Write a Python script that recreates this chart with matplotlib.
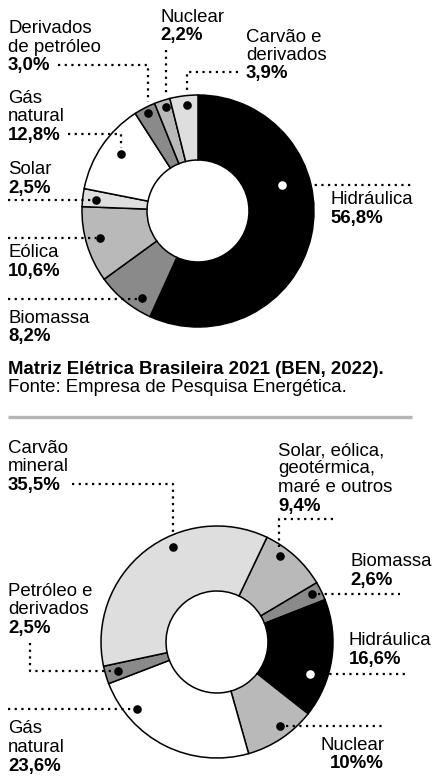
import matplotlib
matplotlib.use("Agg")
import matplotlib.pyplot as plt

plt.rcParams['font.family'] = ['Liberation Sans', 'DejaVu Sans']

# Matriz elétrica brasileira 2021 (%)
br_names = ["Hidráulica", "Biomassa", "Eólica", "Solar", "Gás natural",
            "Derivados de petróleo", "Nuclear", "Carvão e derivados"]
br_values = [56.8, 8.2, 10.6, 2.5, 12.8, 3.0, 2.2, 3.9]
br_labels = ["56,8%", "8,2%", "10,6%", "2,5%", "12,8%", "3,0%", "2,2%", "3,9%"]

# second chart (matriz mundial)
w_names = ["Solar, eólica, geotérmica, maré e outros", "Biomassa", "Hidráulica",
           "Nuclear", "Gás natural", "Petróleo e derivados", "Carvão mineral"]
w_values = [9.4, 2.6, 16.6, 10.0, 23.6, 2.5, 35.5]
w_labels = ["9,4%", "2,6%", "16,6%", "10%%", "23,6%", "2,5%", "35,5%"]

title = "Matriz Elétrica Brasileira 2021 (BEN, 2022)."
source = "Fonte: Empresa de Pesquisa Energética."

DK, MD, LT = "#8a8a8a", "#b9b9b9", "#dedede"
br_colors = ["black", DK, MD, LT, "white", DK, MD, LT]
w_colors = [MD, DK, "black", MD, "white", DK, LT]

FS = 13.4
W, H = 432, 780
fig = plt.figure(figsize=(W / 100, H / 100), dpi=100)
ax = fig.add_axes([0, 0, 1, 1])

wp = dict(width=65, edgecolor="black", linewidth=1.1)
# y axis is flipped later, so counterclockwise in data = clockwise on screen
ax.pie(br_values, colors=br_colors, startangle=-90, counterclock=True,
       center=(198, 211), radius=116, wedgeprops=wp)
ax.pie(w_values, colors=w_colors, startangle=-64.5, counterclock=True,
       center=(217, 642), radius=116, wedgeprops=wp)

ax.set_xlim(0, W)
ax.set_ylim(H, 0)
ax.set_aspect("equal")
ax.axis("off")


def label(x, ys, lines, pct, ha="left"):
    for y, s in zip(ys[:-1], lines):
        ax.text(x, y, s, fontsize=FS, ha=ha, va="baseline")
    ax.text(x, ys[-1], pct, fontsize=FS, ha=ha, va="baseline", fontweight="bold")


def leader(path, dot, white=False):
    xs = [p[0] for p in path]
    ys = [p[1] for p in path]
    ax.plot(xs, ys, color="black", lw=1.6, dashes=(1, 2.0), solid_capstyle="butt")
    ax.plot(dot[0], dot[1], "o", ms=6.2, mec="none",
            mfc="white" if white else "black")


# top chart labels
label(8, [33, 52, 70], ["Derivados", "de petróleo"], br_labels[5])
leader([(58, 65), (148, 65), (148, 102)], (148, 113))
label(160, [22, 40], ["Nuclear"], br_labels[6])
leader([(166, 50), (166, 94)], (166, 107))
label(246, [42, 60, 78], ["Carvão e", "derivados"], br_labels[7])
leader([(238, 72), (187, 72), (187, 92)], (187, 105))
label(8, [103, 121, 140], ["Gás", "natural"], br_labels[4])
leader([(68, 134), (121, 134), (121, 148)], (121, 154))
label(8, [174, 193], ["Solar"], br_labels[3])
leader([(8, 200), (92, 200)], (96, 200))
label(330, [204, 223], ["Hidráulica"], br_labels[0])
leader([(288, 185), (411, 185)], (282, 185), white=True)
label(8, [257, 276], ["Eólica"], br_labels[2])
leader([(8, 238), (96, 238)], (100, 238))
label(8, [323, 341], ["Biomassa"], br_labels[1])
leader([(8, 299), (138, 299)], (142, 298))

ax.text(8, 374, title, fontsize=FS, fontweight="bold", va="baseline")
ax.text(8, 392, source, fontsize=FS, va="baseline")
ax.plot([8, 412], [417, 417], color="#b5b5b5", lw=2.4, solid_capstyle="butt")

# bottom chart labels
label(8, [453, 471, 490], ["Carvão", "mineral"], w_labels[6])
leader([(72, 484), (173, 484), (173, 536)], (173, 547))
label(278, [455, 473, 492, 511], ["Solar, eólica,", "geotérmica,", "maré e outros"], w_labels[0])
leader([(333, 519), (279, 519), (279, 547)], (280, 556))
label(350, [566, 585], ["Biomassa"], w_labels[1])
leader([(318, 594), (400, 594)], (312, 594))
label(8, [596, 614, 633], ["Petróleo e", "derivados"], w_labels[5])
leader([(30, 643), (30, 671), (112, 671)], (118, 671))
label(349, [645, 664], ["Hidráulica"], w_labels[2])
leader([(316, 674), (408, 674)], (310, 674), white=True)
label(8, [733, 752, 771], ["Gás", "natural"], w_labels[4])
leader([(8, 709), (132, 709)], (137, 709))
label(384, [750, 768], ["Nuclear"], w_labels[3], ha="right")
leader([(286, 726), (385, 726)], (280, 726))

fig.savefig("out.png", dpi=100, facecolor="white")
